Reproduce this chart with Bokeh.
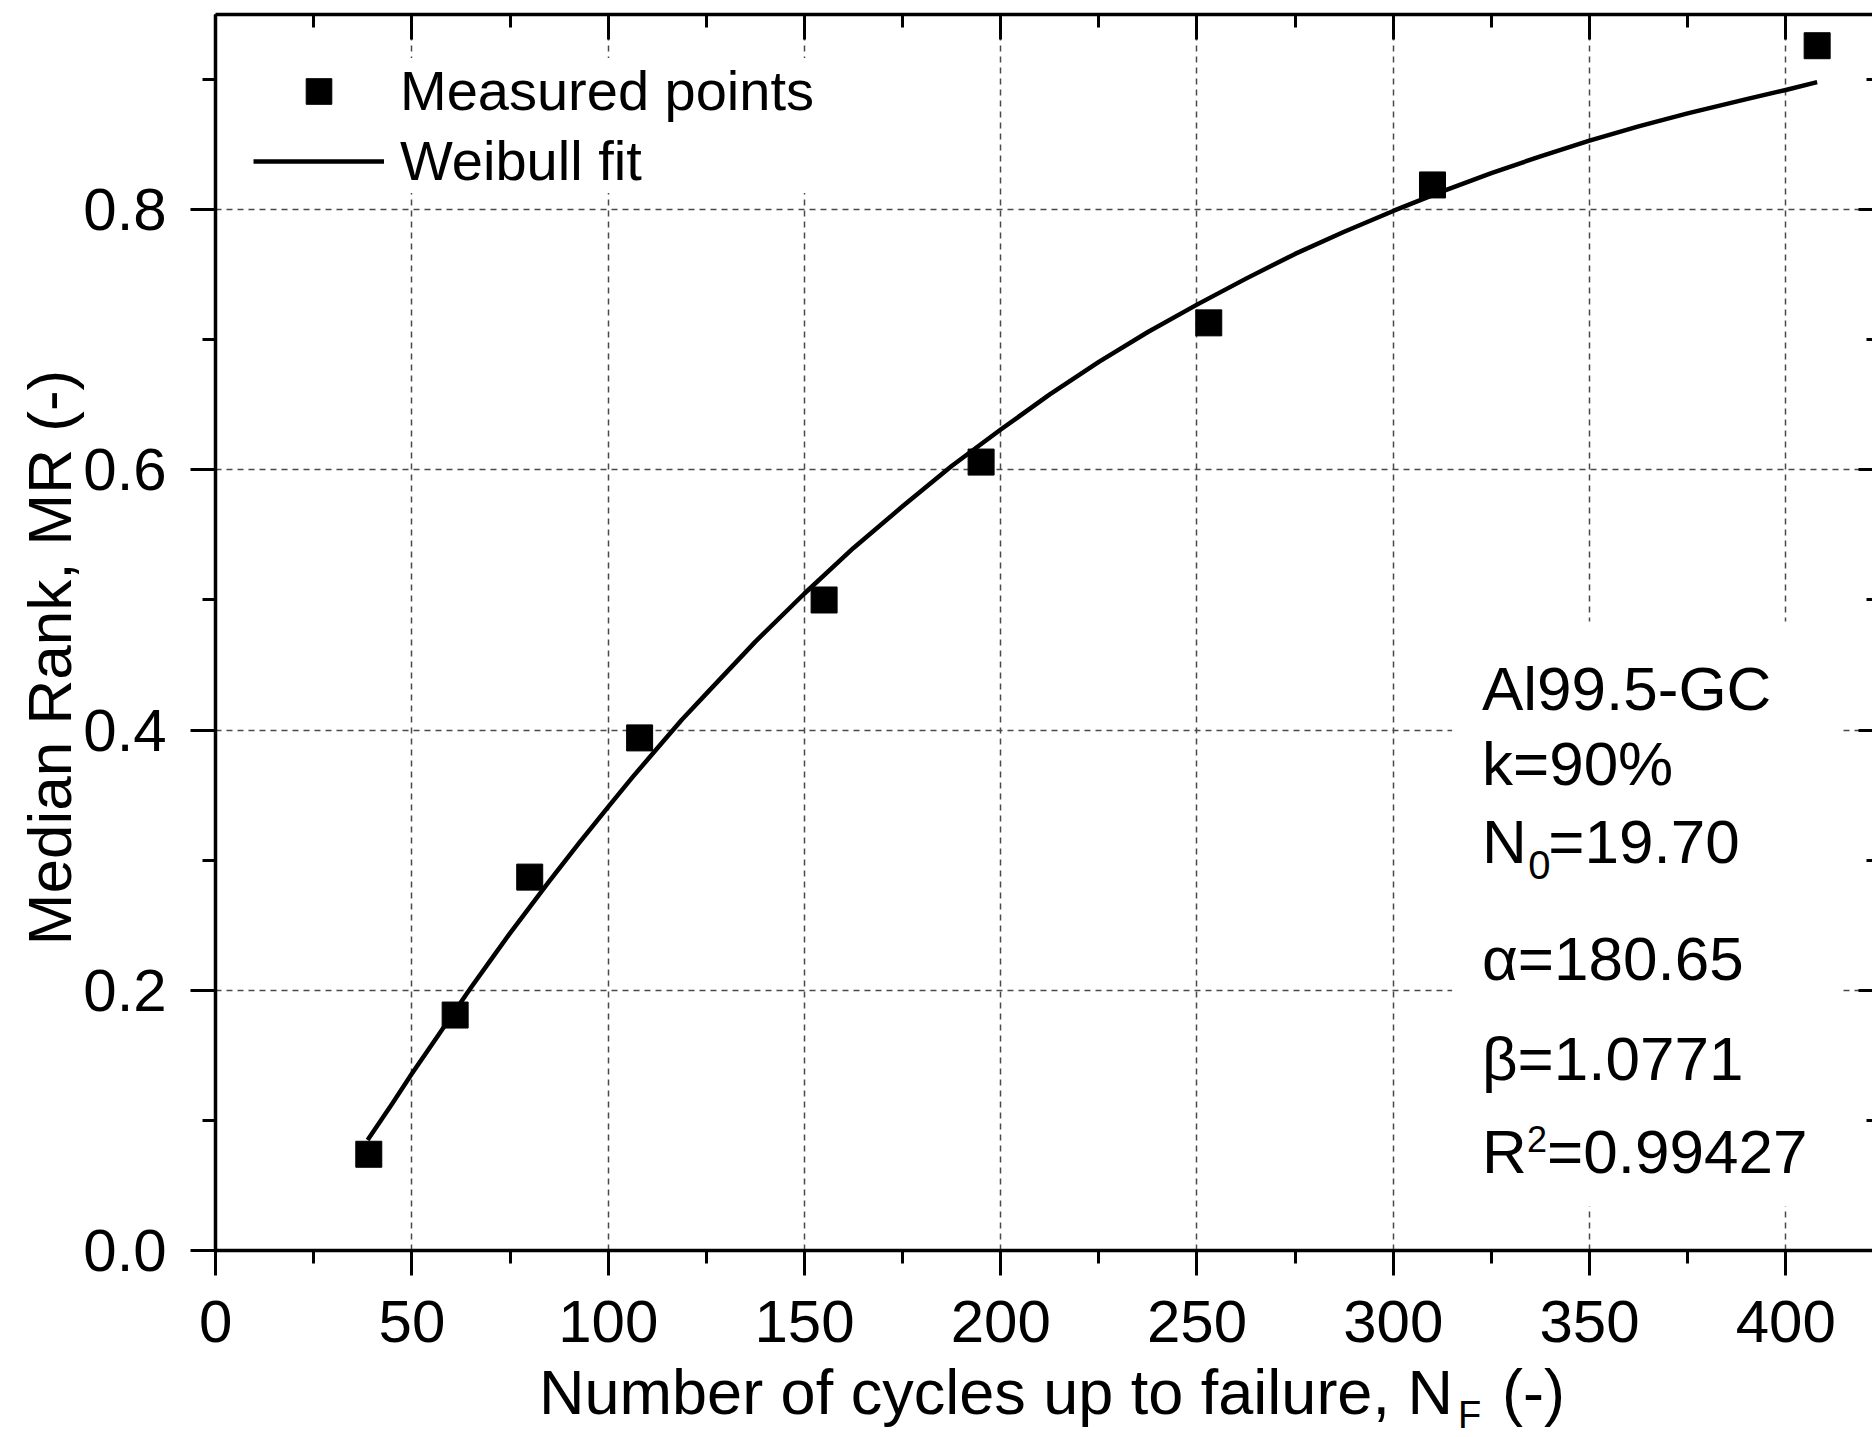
import math
from bokeh.plotting import figure
from bokeh.models import (Range1d, LinearAxis, SingleIntervalTicker, PrintfTickFormatter,
                          Label, BoxAnnotation, Legend, LegendItem, Grid)
from bokeh.embed import file_html
from bokeh.resources import INLINE

# ---- data ----
cycles = [39, 61, 80, 108, 155, 195, 253, 310, 408]
median_rank = [0.074, 0.181, 0.287, 0.394, 0.500, 0.606, 0.713, 0.819, 0.926]

fit_cycles = [38.7, 45, 50, 55, 60, 65, 70, 75, 80, 85, 92.5, 100, 106.25, 112.5, 118.75,
              125, 137.5, 150, 162.5, 175, 187.5, 200, 212.5, 225, 237.5, 250, 262.5, 275,
              287.5, 300, 312.5, 325, 337.5, 350, 362.5, 375, 390, 400, 408]
fit_rank = [0.085, 0.113, 0.136, 0.158, 0.180, 0.202, 0.223, 0.244, 0.264, 0.284, 0.313,
            0.341, 0.364, 0.386, 0.408, 0.428, 0.468, 0.505, 0.540, 0.572, 0.603, 0.631,
            0.658, 0.683, 0.706, 0.727, 0.747, 0.766, 0.783, 0.799, 0.814, 0.828, 0.841,
            0.853, 0.864, 0.874, 0.885, 0.892, 0.898]

x_tick_values = [50, 100, 150, 200, 250, 300, 350, 400]
y_tick_values = [0.2, 0.4, 0.6, 0.8]
x_axis_max = 422.1
y_axis_max = 0.95

FONT = "Liberation Sans"

# The plotting frame covers the canvas below/left of the axes so that all texts
# (tick labels, titles) are drawn inside it; the axes sit at x = 0 and y = 0.
p = figure(width=1872, height=1437, output_backend="svg", toolbar_location=None,
           x_range=Range1d(-54.83, x_axis_max), y_range=Range1d(-0.1437, y_axis_max),
           min_border_left=0, min_border_top=14, min_border_right=0, min_border_bottom=0,
           x_axis_location=None, y_axis_location=None)
p.outline_line_color = None
p.background_fill_color = "white"
p.border_fill_color = "white"

xt = SingleIntervalTicker(interval=50, num_minor_ticks=2)
yt = SingleIntervalTicker(interval=0.2, num_minor_ticks=2)


def style_axis(ax, inward=False, labels=True, major=25, minor=13):
    ax.axis_line_width = 3.5
    ax.axis_line_color = "black"
    ax.major_tick_line_width = 3
    ax.minor_tick_line_width = 3
    ax.major_tick_line_color = "black"
    ax.minor_tick_line_color = "black"
    if inward:
        ax.major_tick_in, ax.major_tick_out = major, 0
        ax.minor_tick_in, ax.minor_tick_out = minor, 0
    else:
        ax.major_tick_in, ax.major_tick_out = 0, major
        ax.minor_tick_in, ax.minor_tick_out = 0, minor
    if labels:
        ax.major_label_text_font = FONT
        ax.major_label_text_font_size = "60px"
        ax.major_label_text_color = "black"
    else:
        ax.major_label_text_font_size = "1px"
        ax.major_label_text_color = None
        ax.major_label_standoff = 0


xb = LinearAxis(ticker=xt, fixed_location=0, bounds=(0, x_axis_max))
style_axis(xb)
xb.major_label_standoff = 25
p.add_layout(xb, "below")

yl = LinearAxis(ticker=yt, formatter=PrintfTickFormatter(format="%.1f"),
                fixed_location=0, bounds=(0, y_axis_max))
style_axis(yl)
yl.major_label_standoff = 24
p.add_layout(yl, "left")

xtop = LinearAxis(ticker=xt, bounds=(0, x_axis_max))
style_axis(xtop, inward=True, labels=False)
p.add_layout(xtop, "above")

yr = LinearAxis(ticker=yt, bounds=(0, y_axis_max))
style_axis(yr, inward=True, labels=False, major=14, minor=6)
yr.axis_line_color = None
p.add_layout(yr, "right")

# grid
p.xgrid.ticker = xt
p.ygrid.ticker = yt
p.xgrid.bounds = (0, x_axis_max)
p.ygrid.bounds = (0, y_axis_max)
GRID = dict(line_color="#4a4a4a", line_width=1.5, line_dash="6 5")
for g in (p.xgrid, p.ygrid):
    g.grid_line_color = GRID["line_color"]
    g.grid_line_width = GRID["line_width"]
    g.grid_line_dash = GRID["line_dash"]
if "cross_bounds" in Grid.properties():
    p.xgrid.cross_bounds = (0, y_axis_max)
    p.ygrid.cross_bounds = (0, x_axis_max)
else:
    p.xgrid.visible = False
    p.ygrid.visible = False
    p.segment(x0=x_tick_values, y0=0, x1=x_tick_values, y1=y_axis_max, level="underlay", **GRID)
    p.segment(x0=0, y0=y_tick_values, x1=x_axis_max, y1=y_tick_values, level="underlay", **GRID)

# data
line_r = p.line(fit_cycles, fit_rank, line_color="black", line_width=4.5,
                line_join="round")
pts_r = p.scatter(cycles, median_rank, marker="square", size=26,
                  fill_color="black", line_color="black")

legend = Legend(items=[LegendItem(label="Measured points", renderers=[pts_r]),
                       LegendItem(label="Weibull fit", renderers=[line_r])],
                location=(253, 1244))
legend.label_text_font = FONT
legend.label_text_font_size = "56px"
legend.label_text_color = "black"
legend.glyph_width = 131
legend.glyph_height = 64
legend.label_height = 64
legend.label_standoff = 16
legend.spacing = 5
legend.margin = 0
legend.padding = 0
legend.border_line_color = None
legend.background_fill_color = "white"
legend.background_fill_alpha = 1.0
p.add_layout(legend)

# white box behind parameter text
p.add_layout(BoxAnnotation(left=315, right=414.4, bottom=0.034, top=0.4835,
                           fill_color="white", fill_alpha=1.0, line_alpha=0))


def lab(x, y, text, size="62px", align="left", baseline="alphabetic", angle=0.0):
    p.add_layout(Label(x=x, y=y, text=text, text_font=FONT, text_font_size=size,
                       text_color="black", text_align=align, text_baseline=baseline,
                       angle=angle))


tx = 322.6
lab(tx, 0.4320, "Al99.5-GC")
lab(tx, 0.3743, "k=90%")
lab(tx, 0.3144, "N")
lab(334.4, 0.2967, "0", size="40px")
lab(339.5, 0.3144, "=19.70")
lab(tx, 0.2244, "\u03b1=180.65")
lab(tx, 0.1476, "\u03b2=1.0771")
lab(tx, 0.0761, "R")
lab(334.1, 0.0955, "2", size="36px", baseline="top")
lab(339.2, 0.0761, "=0.99427")

# axis titles
lab(315.2, -0.1091, "Number of cycles up to failure, N", size="63px", align="right")
lab(316.5, -0.1261, "F", size="38px")
lab(327.7, -0.1091, "(-)", size="63px")
lab(-42.3, 0.4558, "Median Rank, MR (-)", size="62px", align="center",
    baseline="middle", angle=math.pi / 2)

open("out.html", "w").write(file_html(p, INLINE))
